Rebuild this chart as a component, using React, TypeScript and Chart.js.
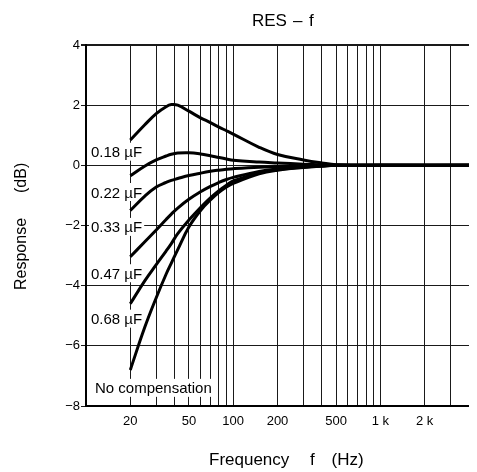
import React, { useEffect, useRef } from "react";
import { Chart, registerables } from "chart.js";

Chart.register(...registerables);

// ---- data ----
const FREQS = [20, 25, 30, 35, 38, 42, 50, 60, 70, 80, 90, 100, 150, 200, 300, 400, 500, 1000, 5000];
const RES_018 = [0.84, 1.34, 1.72, 1.95, 2.02, 2.0, 1.8, 1.58, 1.42, 1.27, 1.15, 1.04, 0.6, 0.36, 0.18, 0.08, 0.02, 0, 0];
const RES_022 = [-0.35, -0.03, 0.18, 0.31, 0.37, 0.41, 0.42, 0.38, 0.32, 0.26, 0.21, 0.17, 0.11, 0.08, 0.04, 0.02, 0, 0, 0];
const RES_033 = [-1.5, -1.03, -0.72, -0.57, -0.5, -0.44, -0.34, -0.26, -0.2, -0.16, -0.13, -0.11, -0.06, -0.04, -0.02, -0.01, 0, 0, 0];
const RES_047 = [-3.04, -2.55, -2.15, -1.8, -1.62, -1.42, -1.13, -0.88, -0.7, -0.57, -0.47, -0.4, -0.2, -0.12, -0.05, -0.02, 0, 0, 0];
const RES_068 = [-4.6, -3.85, -3.3, -2.85, -2.6, -2.27, -1.82, -1.4, -1.08, -0.84, -0.66, -0.52, -0.25, -0.14, -0.06, -0.02, 0, 0, 0];
const RES_NONE = [-6.8, -5.4, -4.4, -3.62, -3.25, -2.8, -2.05, -1.5, -1.15, -0.9, -0.72, -0.6, -0.28, -0.16, -0.07, -0.02, 0, 0, 0];

const SERIES = [RES_018, RES_022, RES_033, RES_047, RES_068, RES_NONE];
const CURVE_LABELS = ["0.18 µF", "0.22 µF", "0.33 µF", "0.47 µF", "0.68 µF", "No compensation"];
const LABEL_DB = [0.45, -0.89, -2.05, -3.59, -5.1, -7.4];

const GRID_FREQS = [10, 20, 30, 40, 50, 60, 70, 80, 90, 100, 200, 300, 400, 500, 600, 700, 800, 900, 1000, 2000, 3000, 4000];
const X_TICK_VALUES = [20, 50, 100, 200, 500, 1000, 2000];
const X_TICK_LABELS = ["20", "50", "100", "200", "500", "1 k", "2 k"];
const Y_TICK_VALUES = [4, 2, 0, -2, -4, -6, -8];
const Y_TICK_LABELS = ["4", "2", "0", "−2", "−4", "−6", "−8"];

const X_MIN = 10;
const X_MAX = 4300;
const Y_MIN = -8;
const Y_MAX = 4;

const FONT = '"Liberation Sans", Arial, Helvetica, sans-serif';

const textPlugin = {
  id: "textPlugin",
  beforeDatasetsDraw(chart: any) {
    const ctx = chart.ctx;
    const area = chart.chartArea;
    const ys = chart.scales.y;
    ctx.save();
    ctx.font = `15px ${FONT}`;
    ctx.textBaseline = "alphabetic";
    ctx.textAlign = "left";
    CURVE_LABELS.forEach((t, i) => {
      const cy = ys.getPixelForValue(LABEL_DB[i]);
      const base = cy + 5.4;
      const left = area.left + (i === CURVE_LABELS.length - 1 ? 9 : 5);
      const w = ctx.measureText(t).width;
      ctx.fillStyle = "#fff";
      ctx.fillRect(left - 2, base - 14.5, w + 4, 18);
      ctx.fillStyle = "#000";
      ctx.fillText(t, left, base);
    });
    ctx.restore();
  },
  afterDraw(chart: any) {
    const ctx = chart.ctx;
    ctx.save();
    ctx.fillStyle = "#000";
    ctx.textBaseline = "alphabetic";
    ctx.textAlign = "left";
    // title
    ctx.font = `17px ${FONT}`;
    ctx.fillText("RES", 244, 18);
    ctx.fillText("–", 285, 18);
    ctx.fillText("f", 301, 18);
    // x title
    ctx.fillText("Frequency", 201, 457);
    ctx.fillText("f", 302, 457);
    ctx.fillText("(Hz)", 323.5, 457);
    // y title
    ctx.font = `16px ${FONT}`;
    ctx.translate(17.7, 0);
    ctx.rotate(-Math.PI / 2);
    ctx.fillText("Response", -282, 0);
    ctx.fillText("(dB)", -185, 0);
    ctx.restore();
  },
};

export default function App() {
  const ref = useRef<HTMLCanvasElement | null>(null);
  useEffect(() => {
    if (!ref.current) return;
    const chart = new Chart(ref.current, {
      type: "line",
      data: {
        datasets: SERIES.map((s, i) => ({
          label: CURVE_LABELS[i],
          data: s.map((v, j) => ({ x: FREQS[j], y: v })),
          borderColor: "#000",
          borderWidth: 3,
          pointRadius: 0,
          fill: false,
          tension: 0.4,
          borderCapStyle: "butt" as const,
          borderJoinStyle: "round" as const,
        })),
      },
      options: {
        responsive: false,
        animation: false,
        events: [],
        layout: { padding: { top: 37, right: 0, bottom: 0, left: 0 } },
        plugins: {
          legend: { display: false },
          tooltip: { enabled: false },
          title: { display: false },
        },
        scales: {
          x: {
            type: "logarithmic",
            min: X_MIN,
            max: X_MAX,
            afterBuildTicks: (scale: any) => {
              scale.ticks = GRID_FREQS.map((v) => ({ value: v }));
            },
            afterFit: (scale: any) => {
              scale.height = 66;
            },
            grid: {
              color: "#1a1a1a",
              lineWidth: 1,
              drawTicks: false,
            },
            border: { display: true, color: "#000", width: 2 },
            ticks: {
              autoSkip: false,
              maxRotation: 0,
              minRotation: 0,
              padding: 8,
              color: "#000",
              font: { family: FONT, size: 13 },
              callback: (v: any) => {
                const k = X_TICK_VALUES.indexOf(Number(v));
                return k >= 0 ? X_TICK_LABELS[k] : "";
              },
            },
          },
          y: {
            type: "linear",
            min: Y_MIN,
            max: Y_MAX,
            afterBuildTicks: (scale: any) => {
              scale.ticks = Y_TICK_VALUES.map((v) => ({ value: v }));
            },
            afterFit: (scale: any) => {
              scale.width = 78;
            },
            grid: {
              color: "#1a1a1a",
              lineWidth: (c: any) => (c.tick && c.tick.value === Y_MAX ? 2 : 1),
              drawTicks: true,
              tickLength: 5,
            },
            border: { display: true, color: "#000", width: 2 },
            ticks: {
              padding: 1,
              color: "#000",
              font: { family: FONT, size: 13 },
              callback: (v: any) => {
                const k = Y_TICK_VALUES.indexOf(Number(v));
                return k >= 0 ? Y_TICK_LABELS[k] : "";
              },
            },
          },
        },
      },
      plugins: [textPlugin],
    });
    return () => chart.destroy();
  }, []);
  return <canvas ref={ref} width={469} height={464} style={{ display: "block" }} />;
}
